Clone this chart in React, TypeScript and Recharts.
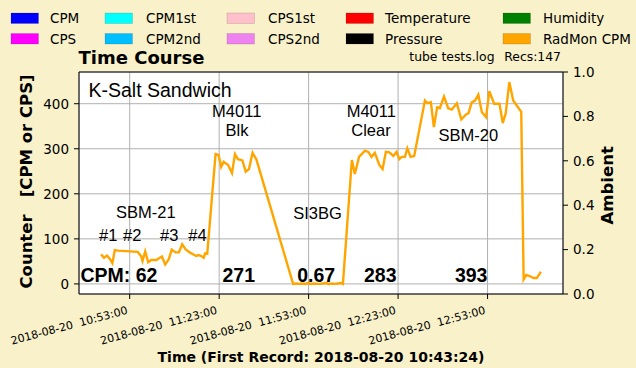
import React from 'react';
import { LineChart, Line, XAxis, YAxis, CartesianGrid, ReferenceLine } from 'recharts';

// Time of each record, minutes after midnight on 2018-08-20
const recordMinutes = [
  643.4, 644.4, 645.4, 646.4, 647.2, 648.0, 649.0, 655.7, 656.8, 657.3,
  658.2, 659.2, 660.2, 661.9, 663.8, 664.9, 666.1, 667.1, 668.4, 669.5,
  670.6, 671.7, 673.1, 675.3, 676.1, 677.0, 677.8, 678.3, 679.0, 681.8,
  682.8, 683.7, 684.5, 686.0, 687.3, 688.3, 689.3, 690.8, 691.9, 693.0,
  694.2, 695.5,
  707.8, 708.8, 709.8, 710.8, 711.8, 712.8, 713.8, 714.8, 715.8, 716.8,
  717.8, 718.8, 719.8, 720.8, 721.8, 722.8, 723.8, 724.5,
  727.5, 728.5, 729.9, 731.9, 733.0, 734.1, 735.2, 736.7, 737.8, 738.9,
  740.1, 741.4, 742.5, 743.4, 744.2, 745.3, 746.1, 747.2, 748.4,
  752.0, 752.8, 754.0, 755.0, 756.1, 757.0, 758.4, 759.8, 761.0, 762.7,
  764.2, 765.8, 766.6, 767.7, 768.8, 769.9, 771.1, 772.5, 773.6, 775.2,
  777.0, 778.1, 779.1, 780.3, 781.6, 782.8, 784.3,
  785.1, 786.0, 787.3, 788.4, 789.5, 790.9,
];

// RadMon CPM values
const radmonCpm = [
  66, 58, 63, 55, 46, 75, 74, 71, 62, 51,
  72, 48, 53, 53, 61, 43, 55, 76, 70, 70,
  88, 77, 70, 62, 64, 62, 58, 68, 67, 288,
  286, 260, 271, 264, 246, 288, 277, 274, 249, 255,
  291, 276,
  0, 1, 0, 1, 0, 2, 0, 1, 0, 0,
  1, 2, 0, 1, 0, 1, 2, 0,
  275, 244, 282, 296, 293, 282, 291, 264, 255, 293,
  292, 284, 293, 277, 282, 282, 301, 282, 284,
  407, 401, 403, 348, 392, 390, 416, 390, 387, 401,
  365, 376, 379, 403, 407, 420, 381, 370, 428, 400,
  400, 357, 379, 448, 407, 396, 382,
  10, 20, 17, 13, 13, 27,
];

const xTicks = [653, 683, 713, 743, 773];
const xTickLabels = [
  '2018-08-20  10:53:00',
  '2018-08-20  11:23:00',
  '2018-08-20  11:53:00',
  '2018-08-20  12:23:00',
  '2018-08-20  12:53:00',
];
const leftTicks = [0, 100, 200, 300, 400];
const rightTicks = [0, 0.2, 0.4, 0.6, 0.8, 1.0];

const legendNames = ['CPM', 'CPS', 'CPM1st', 'CPM2nd', 'CPS1st', 'CPS2nd', 'Temperature', 'Pressure', 'Humidity', 'RadMon CPM'];
const legendColors = ['#0000ff', '#ff00ff', '#00ffff', '#00bfff', '#ffc0cb', '#ee82ee', '#ff0000', '#000000', '#008000', '#ffa500'];

const data = recordMinutes.map((t, i) => ({ t, cpm: radmonCpm[i] }));

const FONT = '"DejaVu Sans", Verdana, sans-serif';
const NOTE_FONT = '"Liberation Sans", Arial, sans-serif';
const BG = '#f8f1c9';

const legendSwatchX = [11, 105, 227, 346, 503];
const legendTextX = [50, 146, 268, 385, 543];
const legendRowY = [13, 33.5];

const XTick = (props: any) => {
  const { x, payload } = props;
  const idx = xTicks.indexOf(payload.value);
  const ax = x - 1.5;
  const ay = 313.5;
  return (
    <text
      x={ax}
      y={ay}
      transform={`rotate(-15, ${ax}, ${ay})`}
      textAnchor="end"
      fontSize={11}
      fontFamily={FONT}
      fill="#000"
      style={{ whiteSpace: 'pre' }}
    >
      {idx >= 0 ? xTickLabels[idx] : ''}
    </text>
  );
};

export default function App() {
  return (
    <div style={{ position: 'absolute', left: 0, top: 0, width: 636, height: 368, background: BG, fontFamily: FONT }}>
      <LineChart width={636} height={368} data={data} margin={{ top: 72, right: 0, bottom: 0, left: 0 }}>
        <CartesianGrid stroke="#b0b0b0" strokeWidth={1} fill="#ffffff" fillOpacity={1} />
        <XAxis
          dataKey="t"
          type="number"
          domain={[636.0, 798.3]}
          ticks={xTicks}
          allowDataOverflow
          height={74}
          tickSize={5}
          tickLine={{ stroke: '#000' }}
          axisLine={{ stroke: '#000' }}
          tick={<XTick />}
          interval={0}
        />
        <YAxis
          type="number"
          domain={[-22.4, 470.4]}
          ticks={leftTicks}
          allowDataOverflow
          width={79}
          tickSize={5}
          tickMargin={5}
          tickLine={{ stroke: '#000' }}
          axisLine={{ stroke: '#000' }}
          tick={{ fontSize: 13.5, fill: '#000', fontFamily: FONT }}
          interval={0}
        />
        <YAxis
          yAxisId="right"
          orientation="right"
          type="number"
          domain={[0, 1]}
          ticks={rightTicks}
          allowDataOverflow
          width={73}
          tickSize={5}
          tickMargin={5}
          tickLine={{ stroke: '#000' }}
          axisLine={{ stroke: '#000' }}
          tick={{ fontSize: 13.5, fill: '#000', fontFamily: FONT }}
          tickFormatter={(v: number) => v.toFixed(1)}
          interval={0}
        />
        <ReferenceLine y={470.4} stroke="#000" strokeWidth={1} ifOverflow="extendDomain" />
        <Line
          type="linear"
          dataKey="cpm"
          stroke="#ffa500"
          strokeWidth={2.4}
          dot={false}
          isAnimationActive={false}
        />
      </LineChart>
      <svg
        width={636}
        height={368}
        style={{ position: 'absolute', left: 0, top: 0, pointerEvents: 'none' }}
        fontFamily={FONT}
      >
        {legendNames.map((name, i) => {
          const col = Math.floor(i / 2);
          const row = i % 2;
          return (
            <g key={name}>
              <rect
                x={legendSwatchX[col]}
                y={legendRowY[row]}
                width={27.5}
                height={10.5}
                fill={legendColors[i]}
                stroke="rgba(0,0,0,0.15)"
                strokeWidth={0.8}
              />
              <text x={legendTextX[col]} y={legendRowY[row] + 10.3} fontSize={13.5} fill="#000">
                {name}
              </text>
            </g>
          );
        })}
        <text x={78.5} y={64} fontSize={18} fontWeight="bold" fill="#000">Time Course</text>
        <text x={494.5} y={61} fontSize={12.4} textAnchor="end" fill="#000">tube tests.log</text>
        <text x={561} y={61} fontSize={12.4} textAnchor="end" fill="#000">Recs:147</text>

        <g fontFamily={NOTE_FONT} fill="#000">
          <text x={88.5} y={96.7} fontSize={19.5}>K-Salt Sandwich</text>
          <text x={236.7} y={116.7} fontSize={16.5} textAnchor="middle">M4011</text>
          <text x={237} y={136} fontSize={16.5} textAnchor="middle">Blk</text>
          <text x={145.8} y={218.3} fontSize={16.5} textAnchor="middle">SBM-21</text>
          <text x={99} y={241} fontSize={16.5}>#1</text>
          <text x={123} y={241} fontSize={16.5}>#2</text>
          <text x={160} y={241} fontSize={16.5}>#3</text>
          <text x={188.3} y={241} fontSize={16.5}>#4</text>
          <text x={317.5} y={219} fontSize={16.5} textAnchor="middle">SI3BG</text>
          <text x={371.3} y={116.7} fontSize={16.5} textAnchor="middle">M4011</text>
          <text x={371} y={136} fontSize={16.5} textAnchor="middle">Clear</text>
          <text x={468.3} y={141} fontSize={16.5} textAnchor="middle">SBM-20</text>

          <text x={80.5} y={282.3} fontSize={19.5} fontWeight="bold">CPM: 62</text>
          <text x={238.8} y={282.3} fontSize={19.5} fontWeight="bold" textAnchor="middle">271</text>
          <text x={316.2} y={282.3} fontSize={19.5} fontWeight="bold" textAnchor="middle">0.67</text>
          <text x={380.3} y={282.3} fontSize={19.5} fontWeight="bold" textAnchor="middle">283</text>
          <text x={471.2} y={282.3} fontSize={19.5} fontWeight="bold" textAnchor="middle">393</text>
        </g>

        <text
          x={32.3}
          y={181.5}
          transform="rotate(-90, 32.3, 181.5)"
          textAnchor="middle"
          fontSize={16.5}
          fontWeight="bold"
          fill="#000"
          style={{ whiteSpace: 'pre' }}
        >
          {'Counter   [CPM or CPS]'}
        </text>
        <text
          x={613.5}
          y={185.3}
          transform="rotate(-90, 613.5, 185.3)"
          textAnchor="middle"
          fontSize={16.5}
          fontWeight="bold"
          fill="#000"
        >
          Ambient
        </text>
        <text x={321} y={362} fontSize={14} fontWeight="bold" textAnchor="middle" fill="#000">
          Time (First Record: 2018-08-20 10:43:24)
        </text>
      </svg>
    </div>
  );
}
